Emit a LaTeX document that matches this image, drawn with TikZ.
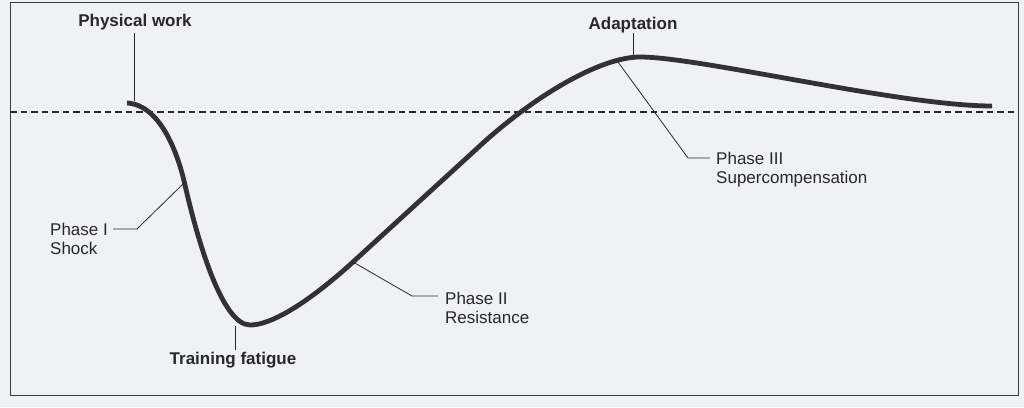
\documentclass[tikz,border=0pt]{standalone}
\usepackage{fontspec}
\setmainfont{Liberation Sans}
\definecolor{bgc}{RGB}{239,241,245}
\definecolor{ink}{RGB}{40,40,40}
\definecolor{curvec}{RGB}{50,50,50}
\begin{document}
\begin{tikzpicture}[x=1pt,y=-1pt,
  frame/.style={draw=ink!90, line width=0.9pt},
  baseline dash/.style={draw=ink, line width=1.1pt, dash pattern=on 6.5pt off 4pt},
  curveline/.style={draw=curvec, line width=4.8pt},
  leader/.style={draw=ink, line width=0.8pt},
  lbl/.style={inner sep=0pt, text=ink, font=\fontsize{17}{19.2}\selectfont, align=left},
  blbl/.style={inner sep=0pt, text=ink, font=\fontsize{17}{19.2}\selectfont\bfseries}]
\fill[bgc] (0,0) rectangle (1024,407);
\useasboundingbox (0,0) rectangle (1024,407);
\draw[frame] (10,2) rectangle (1018,395);
\draw[baseline dash] (10,112) -- (1018,112);
% curve points
\coordinate (c0) at (127,103);
\coordinate (c1) at (185,185);
\coordinate (c2) at (250,325);
\coordinate (c3) at (353,262);
\coordinate (c4) at (483,143);
\coordinate (c5) at (640,57);
\coordinate (c6) at (992,106);
\draw[curveline] (c0) .. controls (162,105) and (179,158) .. (c1)
  .. controls (197.5,240) and (222,325) .. (c2)
  .. controls (280,325) and (330,283) .. (c3)
  -- (c4)
  .. controls (535,96) and (600,57) .. (c5)
  .. controls (700,57) and (900,106) .. (c6);
% labels
\node[blbl, anchor=base] (pw) at (135,26) {Physical work};
\node[blbl, anchor=base] (ad) at (633,29) {Adaptation};
\node[blbl, anchor=base] (tf) at (233,364) {Training fatigue};
\node[lbl, anchor=north west] (ph1) at (50,223) {Phase I\\Shock};
\node[lbl, anchor=north west] (ph2) at (445,292) {Phase II\\Resistance};
\node[lbl, anchor=north west] (ph3) at (716,152) {Phase III\\Supercompensation};
% leader points
\coordinate (pwtop) at (134,33);
\coordinate (pwc) at (134,101);
\coordinate (adtop) at (633,33);
\coordinate (adc) at (633,56);
\coordinate (tfbot) at (235,350);
\coordinate (tfc) at (235,326);
\coordinate (p1a) at (113,229);
\coordinate (p1b) at (137,229);
\coordinate (p1c) at (184,183);
\coordinate (p2a) at (438,296);
\coordinate (p2b) at (412,296);
\coordinate (p2c) at (353,262);
\coordinate (p3a) at (710,158);
\coordinate (p3b) at (688,158);
\coordinate (p3c) at (618,62);
\draw[leader] (pwtop) -- (pwc);
\draw[leader] (adtop) -- (adc);
\draw[leader] (tfbot) -- (tfc);
\draw[leader] (p1a) -- (p1b) -- (p1c);
\draw[leader] (p2a) -- (p2b) -- (p2c);
\draw[leader] (p3a) -- (p3b) -- (p3c);
\end{tikzpicture}
\end{document}
